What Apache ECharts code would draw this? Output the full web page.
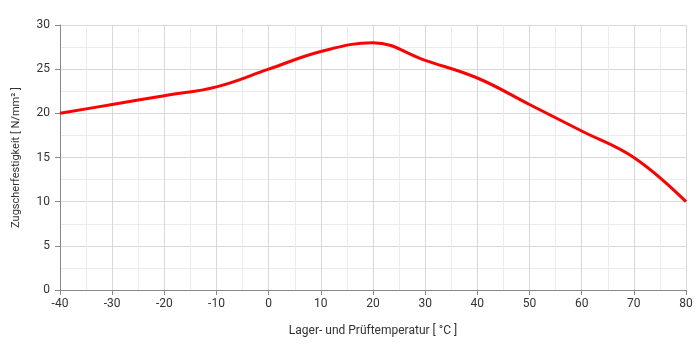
<!DOCTYPE html>
<html><head><meta charset="utf-8">
<script src="https://cdn.jsdelivr.net/npm/echarts@6/dist/echarts.min.js"></script>
<style>html,body{margin:0;padding:0;background:#fff}#c{width:700px;height:350px}</style>
</head><body><div id="c"></div>
<script>
const temperatures = [-40, -30, -20, -10, 0, 10, 20, 30, 40, 50, 60, 70, 80];
const strength = [20, 21, 22, 23, 25, 27, 28, 26, 24, 21, 18, 15, 10];
const xName = 'Lager- und Prüftemperatur [ °C ]';
const yName = 'Zugscherfestigkeit [ N/mm² ]';

const chart = echarts.init(document.getElementById('c'));
const axisLabel = {color: '#333', fontFamily: 'Roboto', fontSize: 12};
chart.setOption({
  animation: false,
  grid: {left: 60, right: 14, top: 25, bottom: 60},
  xAxis: {
    type: 'value', min: -40, max: 80, interval: 10,
    name: xName, nameLocation: 'middle', nameGap: 35,
    nameTextStyle: {color: '#333', fontFamily: 'Roboto', fontSize: 12},
    axisLine: {show: true, onZero: false, lineStyle: {color: '#888'}},
    axisTick: {show: true, length: 5, lineStyle: {color: '#888'}},
    axisLabel: Object.assign({margin: 8}, axisLabel),
    splitLine: {show: true, lineStyle: {color: '#d8d8d8'}},
    minorTick: {show: false, splitNumber: 2},
    minorSplitLine: {show: true, lineStyle: {color: '#ececec'}}
  },
  yAxis: {
    type: 'value', min: 0, max: 30, interval: 5,
    name: yName, nameLocation: 'middle', nameGap: 38, nameRotate: 90,
    nameTextStyle: {color: '#333', fontFamily: 'Roboto', fontSize: 11},
    axisLine: {show: true, onZero: false, lineStyle: {color: '#888'}},
    axisTick: {show: true, length: 5, lineStyle: {color: '#888'}},
    axisLabel: Object.assign({margin: 10, fontSize: 13}, axisLabel),
    splitLine: {show: true, lineStyle: {color: '#d8d8d8'}},
    minorTick: {show: false, splitNumber: 2},
    minorSplitLine: {show: true, lineStyle: {color: '#ececec'}}
  },
  series: [{
    type: 'line',
    data: temperatures.map((t, i) => [t, strength[i]]),
    smooth: 0.4,
    symbol: 'none',
    lineStyle: {color: '#ff0000', width: 3}
  }]
});
</script></body></html>
